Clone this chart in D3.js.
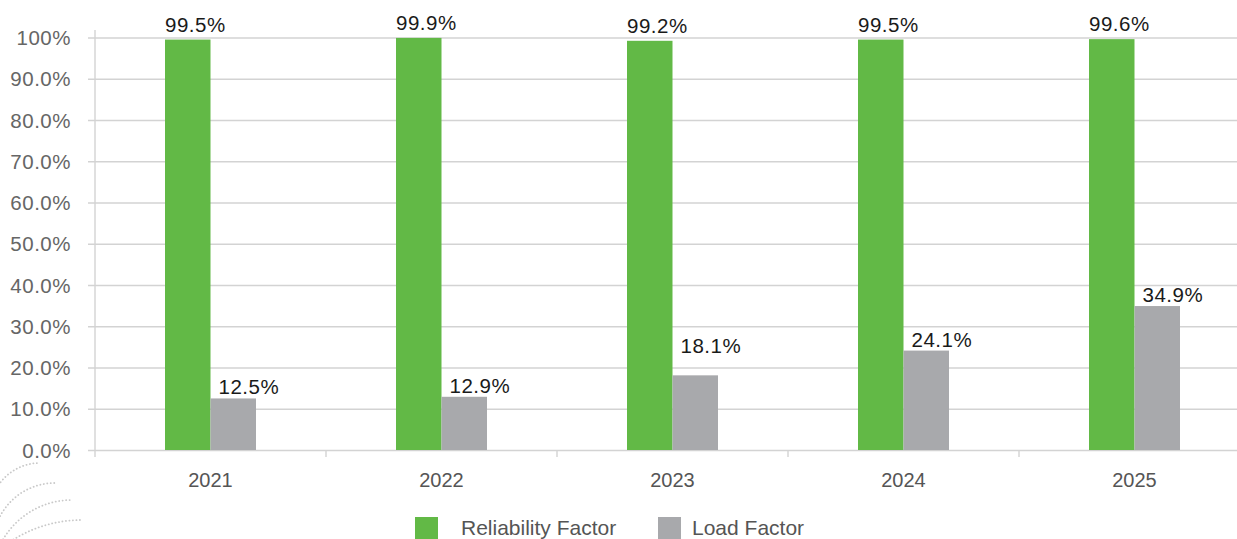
<!DOCTYPE html>
<html>
<head>
<meta charset="utf-8">
<script src="https://cdn.jsdelivr.net/npm/d3@7"></script>
<style>
  html, body { margin: 0; padding: 0; background: #fff; overflow: hidden; }
  svg { display: block; font-family: "Liberation Sans", Arial, Helvetica, sans-serif; }
</style>
</head>
<body>
<div id="chart"></div>
<script>
const WIDTH = 1237, HEIGHT = 539;

const years = ["2021", "2022", "2023", "2024", "2025"];
const seriesNames = ["Reliability Factor", "Load Factor"];
const reliability = [99.5, 99.9, 99.2, 99.5, 99.6];
const loadFactor = [12.5, 12.9, 18.1, 24.1, 34.9];
const yTicks = [0, 10, 20, 30, 40, 50, 60, 70, 80, 90, 100];
const yTickLabels = ["0.0%", "10.0%", "20.0%", "30.0%", "40.0%", "50.0%", "60.0%", "70.0%", "80.0%", "90.0%", "100%"];

const COLORS = { "Reliability Factor": "#62b946", "Load Factor": "#a8a9ac" };
const LABEL_DX = { "Reliability Factor": 0, "Load Factor": 8 };
const LABEL_DY = { "Reliability Factor": 8, "Load Factor": 4 };
// the 2023 load label sits higher in the original
const LABEL_LIFT = { "2023|Load Factor": 18 };

const values = { "Reliability Factor": reliability, "Load Factor": loadFactor };

const svg = d3.select("#chart").append("svg")
  .attr("width", WIDTH).attr("height", HEIGHT);

// plot area runs past the right edge, as in the original crop
const x0 = d3.scaleBand().domain(years).range([95, 1250]);
const bw = x0.bandwidth();
const barW = 45.5;
const x1 = d3.scaleBand().domain(seriesNames).range([bw / 2 - barW, bw / 2 + barW]);
const y = d3.scaleLinear().domain([0, 100]).range([450, 37.5]);

// decorative dotted arcs, bottom-left
const rings = [[40, 513, 50], [55, 545, 62], [72, 580, 80], [82, 650, 130]];
svg.append("g").selectAll("path").data(rings).enter().append("path")
  .attr("d", d => { const p = d3.path(); p.arc(d[0], d[1], d[2], Math.PI * 1.1, Math.PI * 1.5); return p.toString(); })
  .attr("fill", "none").attr("stroke", "#c9c9c9").attr("stroke-width", 1.8)
  .attr("stroke-dasharray", "0.1 3.4").attr("stroke-linecap", "round");

// gridlines + y labels
const yAxis = svg.append("g").attr("transform", "translate(95,0)")
  .call(d3.axisLeft(y).tickValues(yTicks).tickSize(7)
    .tickFormat((d, i) => yTickLabels[i]));
yAxis.select(".domain").remove();
yAxis.selectAll(".tick line").attr("x1", -7).attr("x2", WIDTH).attr("stroke", "#d3d3d3").attr("stroke-width", 1.4);
yAxis.selectAll(".tick text").attr("x", -24).attr("fill", "#666").attr("font-size", 20.5)
  .attr("letter-spacing", 0.5).attr("dy", "0.35em");

// vertical axis line
svg.append("line").attr("x1", 95).attr("x2", 95).attr("y1", 30).attr("y2", 457)
  .attr("stroke", "#d3d3d3").attr("stroke-width", 1.4);

// category boundary ticks
svg.append("g").selectAll("line").data(years.slice(1)).enter().append("line")
  .attr("x1", d => x0(d)).attr("x2", d => x0(d)).attr("y1", 450).attr("y2", 457)
  .attr("stroke", "#d3d3d3").attr("stroke-width", 1.4);

// year labels
svg.append("g").selectAll("text").data(years).enter().append("text")
  .attr("x", d => x0(d) + bw / 2).attr("y", 487)
  .attr("text-anchor", "middle").attr("font-size", 20).attr("fill", "#555")
  .text(d => d);

// bars
const groups = svg.append("g").selectAll("g").data(years).enter().append("g")
  .attr("transform", d => `translate(${x0(d)},0)`);

const cells = groups.selectAll("g").data((d, i) => seriesNames.map(s => ({ year: d, s, v: values[s][i] })))
  .enter().append("g");

cells.append("rect")
  .attr("x", d => x1(d.s)).attr("width", x1.bandwidth())
  .attr("y", d => y(d.v)).attr("height", d => y(0) - y(d.v))
  .attr("fill", d => COLORS[d.s]);

cells.append("text")
  .attr("x", d => x1(d.s) + LABEL_DX[d.s])
  .attr("y", d => y(d.v) - LABEL_DY[d.s] - (LABEL_LIFT[d.year + "|" + d.s] || 0))
  .attr("font-size", 20.5).attr("letter-spacing", 0.5).attr("fill", "#1a1a1a")
  .text(d => d.v.toFixed(1) + "%");

// legend
const legendX = [415, 658];
const legend = svg.append("g").selectAll("g").data(seriesNames).enter().append("g")
  .attr("transform", (d, i) => `translate(${legendX[i]},517)`);
legend.append("rect").attr("width", 23).attr("height", 23).attr("fill", d => COLORS[d]);
legend.append("text").attr("x", (d, i) => i === 0 ? 46 : 34).attr("y", 18)
  .attr("font-size", 21).attr("fill", "#555").text(d => d);
</script>
</body>
</html>
